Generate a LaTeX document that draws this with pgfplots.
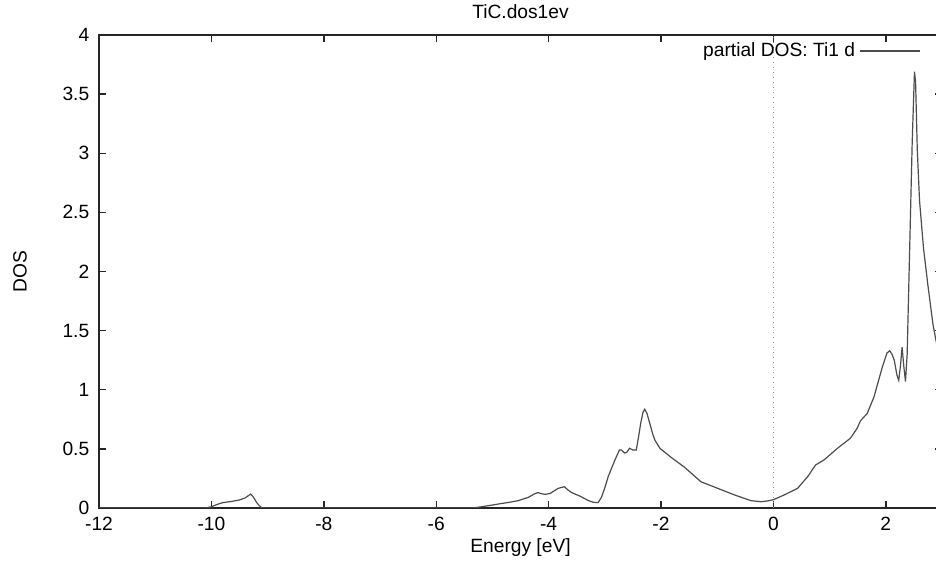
\documentclass[border=0pt]{standalone}
\usepackage{fontspec}
\setmainfont{Liberation Sans}
\usepackage{pgfplots}
\pgfplotsset{compat=1.18}
\usepackage{pgfplotstable}
\pgfplotstableread{
x y
-12 0
-10.12 0
-10.0 0.01
-9.9 0.03
-9.8 0.045
-9.65 0.055
-9.5 0.068
-9.4 0.085
-9.3 0.118
-9.25 0.09
-9.2 0.05
-9.15 0.02
-9.1 0
-5.35 0
-5.2 0.01
-5.0 0.025
-4.89 0.034
-4.7 0.048
-4.54 0.062
-4.36 0.09
-4.25 0.12
-4.19 0.13
-4.12 0.12
-4.06 0.115
-3.97 0.124
-3.83 0.166
-3.72 0.18
-3.65 0.15
-3.59 0.13
-3.44 0.10
-3.29 0.062
-3.2 0.048
-3.12 0.045
-3.06 0.09
-3.0 0.17
-2.94 0.265
-2.82 0.406
-2.74 0.49
-2.70 0.49
-2.65 0.465
-2.61 0.47
-2.56 0.505
-2.50 0.49
-2.44 0.49
-2.40 0.6
-2.36 0.72
-2.32 0.81
-2.29 0.835
-2.25 0.80
-2.20 0.716
-2.15 0.63
-2.11 0.575
-2.02 0.505
-1.82 0.428
-1.58 0.344
-1.29 0.222
-0.99 0.166
-0.69 0.11
-0.40 0.062
-0.22 0.053
-0.1 0.06
0 0.07
0.19 0.11
0.43 0.166
0.61 0.265
0.75 0.364
0.90 0.406
1.14 0.505
1.37 0.59
1.49 0.674
1.55 0.738
1.67 0.80
1.79 0.94
1.94 1.195
2.02 1.31
2.07 1.33
2.11 1.30
2.15 1.25
2.20 1.12
2.23 1.08
2.26 1.2
2.29 1.36
2.32 1.2
2.35 1.07
2.38 1.3
2.41 1.9
2.44 2.5
2.47 3.1
2.51 3.69
2.53 3.6
2.56 3.03
2.60 2.6
2.67 2.2
2.75 1.88
2.84 1.55
2.92 1.35
3.0 1.15
}\dosdata
\begin{document}
\fontsize{9.6}{11.5}\selectfont
\begin{tikzpicture}
\begin{axis}[
  at={(0,0)}, anchor=south west,
  scale only axis,
  width=421.5pt, height=236.5pt,
  xmin=-12, xmax=3, ymin=0, ymax=4,
  xtick={-12,-10,-8,-6,-4,-2,0,2},
  ytick={0,0.5,1,1.5,2,2.5,3,3.5,4},
  tick align=inside,
  xtick pos=both, ytick pos=both,
  major tick length=3.5pt,
  every tick/.style={black!85, line width=0.7pt},
  axis line style={black!85, line width=1pt},
  /pgf/number format/assume math mode=true,
  xticklabel style={yshift=-1pt},
  yticklabel style={xshift=-1.5pt},
  title={TiC.dos1ev},
  title style={at={(rel axis cs:0.5,1)}, anchor=center, yshift=5.5pt},
  xlabel={Energy [eV]},
  xlabel style={at={(rel axis cs:0.5,0)}, anchor=center, yshift=-20pt},
  ylabel={DOS},
  ylabel style={at={(rel axis cs:0,0.5)}, anchor=center, yshift=39.5pt},
  legend style={draw=none, fill=none, at={(axis cs:2.62,3.865)}, anchor=east, inner sep=0pt},
  legend cell align=right,
  legend plot pos=right,
  legend image code/.code={\path (0pt,0pt) -- (30pt,0pt); \draw[#1] (3pt,0pt) -- (30pt,0pt);},
]
\addplot[black!45, dotted, line width=0.5pt, forget plot] coordinates {(0,0) (0,4)};
\addplot[black!70, line width=0.6pt] table[x=x, y=y] {\dosdata};
\addlegendentry{partial DOS: Ti1 d}
\end{axis}
\pgfresetboundingbox
\path[use as bounding box] (-49.5pt,-28.5pt) rectangle (418.5pt,254pt);
\end{tikzpicture}
\end{document}
